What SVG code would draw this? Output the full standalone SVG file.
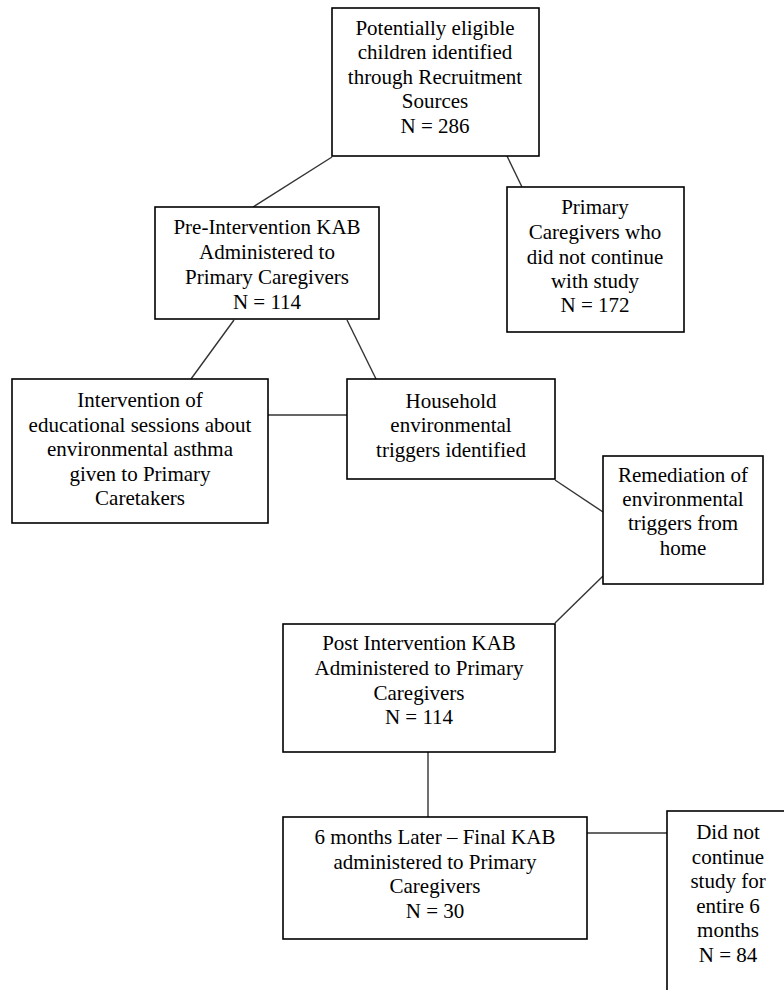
<svg xmlns="http://www.w3.org/2000/svg" width="784" height="990" viewBox="0 0 784 990">
<style>
.box{fill:#fff;stroke:#000;stroke-width:1.6}
.t{font-family:'Liberation Serif','Times New Roman','DejaVu Serif',Times,serif;font-size:21px;fill:#000;text-anchor:middle}
.c{stroke:#333;stroke-width:1.4;fill:none}
</style>
<rect width="784" height="990" fill="#fff"/>
<g id="connectors">
<line class="c" x1="332" y1="157" x2="253" y2="207"/>
<line class="c" x1="507" y1="156" x2="522" y2="187"/>
<line class="c" x1="234" y1="320" x2="191" y2="379"/>
<line class="c" x1="347" y1="320" x2="378" y2="383"/>
<line class="c" x1="268" y1="415" x2="347" y2="415"/>
<line class="c" x1="555" y1="480" x2="603" y2="512"/>
<line class="c" x1="603" y1="576" x2="555" y2="623"/>
<line class="c" x1="428" y1="752" x2="428" y2="817"/>
<line class="c" x1="587" y1="833" x2="667" y2="833"/>
</g>
<g font-family="Liberation Serif, Times New Roman, serif">
<g id="n1">
<rect class="box" x="332" y="8" width="207" height="148"/>
<text class="t" x="435" y="35">Potentially eligible</text>
<text class="t" x="435" y="59">children identified</text>
<text class="t" x="435" y="84">through Recruitment</text>
<text class="t" x="435" y="108">Sources</text>
<text class="t" x="435" y="133">N = 286</text>
</g>
<g id="n2">
<rect class="box" x="155" y="207" width="224" height="112"/>
<text class="t" x="267" y="234">Pre-Intervention KAB</text>
<text class="t" x="267" y="259">Administered to</text>
<text class="t" x="267" y="284">Primary Caregivers</text>
<text class="t" x="267" y="309">N = 114</text>
</g>
<g id="n3">
<rect class="box" x="507" y="187" width="177" height="145"/>
<text class="t" x="595" y="214">Primary</text>
<text class="t" x="595" y="239">Caregivers who</text>
<text class="t" x="595" y="264">did not continue</text>
<text class="t" x="595" y="288">with study</text>
<text class="t" x="595" y="312">N = 172</text>
</g>
<g id="n4">
<rect class="box" x="12" y="379" width="256" height="144"/>
<text class="t" x="140" y="407">Intervention of</text>
<text class="t" x="140" y="432">educational sessions about</text>
<text class="t" x="140" y="456">environmental asthma</text>
<text class="t" x="140" y="481">given to Primary</text>
<text class="t" x="140" y="505">Caretakers</text>
</g>
<g id="n5">
<rect class="box" x="347" y="379" width="208" height="100"/>
<text class="t" x="451" y="408">Household</text>
<text class="t" x="451" y="432">environmental</text>
<text class="t" x="451" y="457">triggers identified</text>
</g>
<g id="n6">
<rect class="box" x="603" y="456" width="160" height="128"/>
<text class="t" x="683" y="482">Remediation of</text>
<text class="t" x="683" y="506">environmental</text>
<text class="t" x="683" y="530">triggers from</text>
<text class="t" x="683" y="555">home</text>
</g>
<g id="n7">
<rect class="box" x="283" y="624" width="272" height="128"/>
<text class="t" x="419" y="650">Post Intervention KAB</text>
<text class="t" x="419" y="675">Administered to Primary</text>
<text class="t" x="419" y="700">Caregivers</text>
<text class="t" x="419" y="724">N = 114</text>
</g>
<g id="n8">
<rect class="box" x="283" y="817" width="304" height="122"/>
<text class="t" x="435" y="844">6 months Later – Final KAB</text>
<text class="t" x="435" y="869">administered to Primary</text>
<text class="t" x="435" y="893">Caregivers</text>
<text class="t" x="435" y="918">N = 30</text>
</g>
<g id="n9">
<rect class="box" x="667" y="811" width="123" height="200"/>
<text class="t" x="728" y="839">Did not</text>
<text class="t" x="728" y="864">continue</text>
<text class="t" x="728" y="888">study for</text>
<text class="t" x="728" y="913">entire 6</text>
<text class="t" x="728" y="937">months</text>
<text class="t" x="728" y="962">N = 84</text>
</g>
</g>
</svg>
